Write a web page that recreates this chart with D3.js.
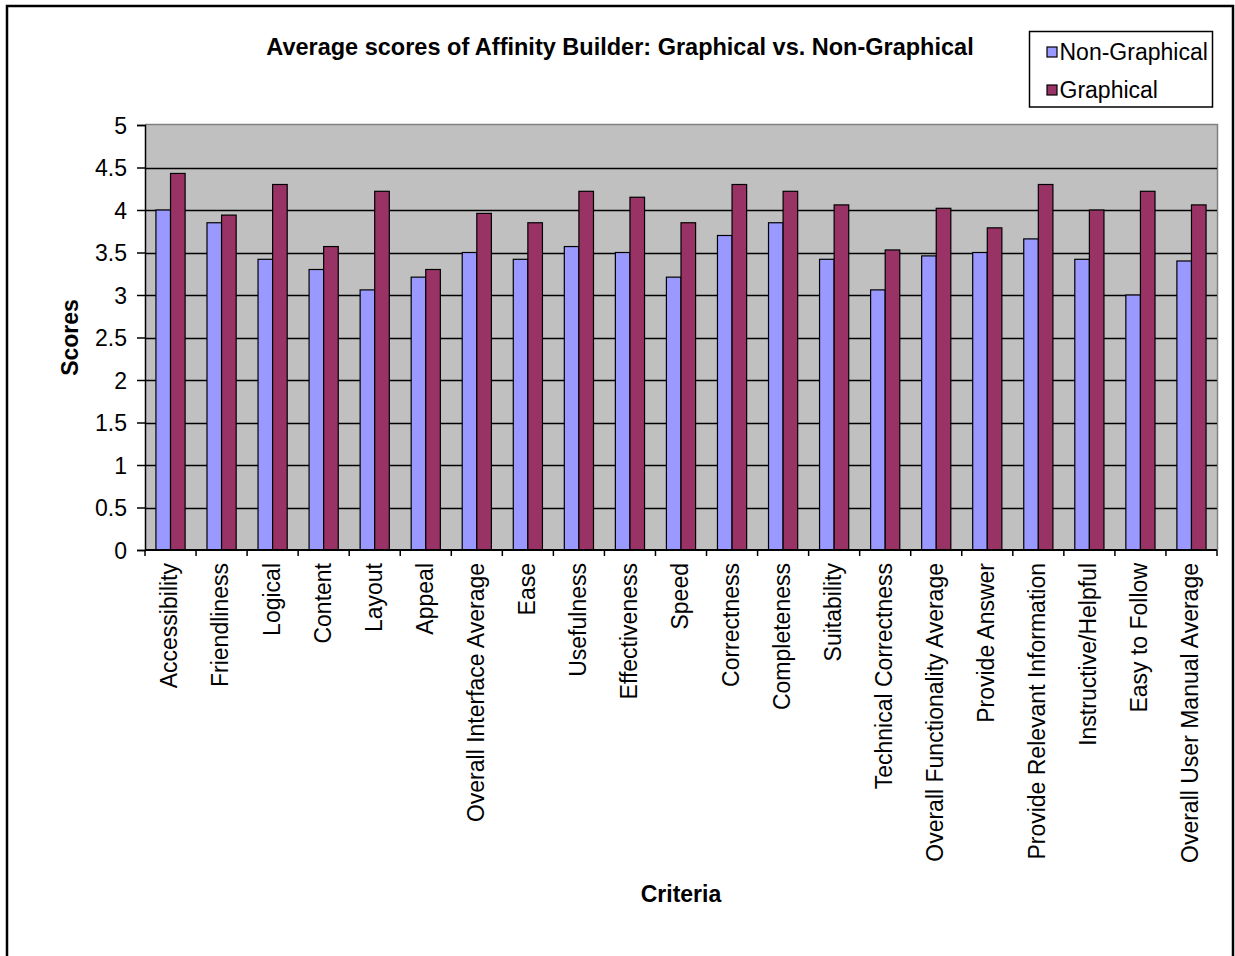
<!DOCTYPE html>
<html lang="en">
<head>
    <meta charset="utf-8">
    <title>Average scores of Affinity Builder</title>
    <script src="https://d3js.org/d3.v7.min.js" charset="utf-8"></script>
    <style>
        body { margin: 0; background: #fff; }
        text { font-family: "Liberation Sans", Arial, sans-serif; fill: #000; }
    </style>
</head>
<body>

    <script>

    var criteria = ["Accessibility", "Friendliness", "Logical", "Content", "Layout", "Appeal",
        "Overall Interface Average", "Ease", "Usefulness", "Effectiveness", "Speed", "Correctness",
        "Completeness", "Suitability", "Technical Correctness", "Overall Functionality Average",
        "Provide Answer", "Provide Relevant Information", "Instructive/Helpful", "Easy to Follow",
        "Overall User Manual Average"]
    var nonGraphical = [4.00, 3.85, 3.42, 3.30, 3.06, 3.21, 3.50, 3.42, 3.57, 3.50, 3.21, 3.70,
        3.85, 3.42, 3.06, 3.46, 3.50, 3.66, 3.42, 3.00, 3.40]
    var graphical = [4.43, 3.94, 4.30, 3.57, 4.22, 3.30, 3.96, 3.85, 4.22, 4.15, 3.85, 4.30,
        4.22, 4.06, 3.53, 4.02, 3.79, 4.30, 4.00, 4.22, 4.06]
    var seriesNames = ["Non-Graphical", "Graphical"]
    var yTicks = [0, 0.5, 1, 1.5, 2, 2.5, 3, 3.5, 4, 4.5, 5]

    var colors = ["#9999ff", "#993366"]
    var w = 1235, h = 956
    var pLeft = 145, pRight = 1217, pTop = 125, pBottom = 550

    var svg = d3.select("body").append("svg").attr("width", w).attr("height", h)

    // outer chart border
    svg.append("rect").attr("x", 7).attr("y", 6).attr("width", 1226).attr("height", 1000)
        .attr("fill", "none").attr("stroke", "#000").attr("stroke-width", 2.5)

    var x = d3.scaleBand().domain(criteria).range([pLeft, pRight])
        .paddingInner(1.5 / 3.5).paddingOuter(0.75 / 3.5)
    var xs = d3.scaleBand().domain(seriesNames).range([0, x.bandwidth()])
    var y = d3.scaleLinear().domain([0, 5]).range([pBottom, pTop])

    // plot area
    svg.append("rect").attr("x", pLeft).attr("y", pTop).attr("width", pRight - pLeft).attr("height", pBottom - pTop)
        .attr("fill", "#c0c0c0")
    svg.append("path").attr("d", "M" + pLeft + "," + (pTop - 0.5) + "H" + (pRight + 0.5) + "V" + pBottom)
        .attr("fill", "none").attr("stroke", "#808080").attr("stroke-width", 1.5)

    // gridlines
    svg.append("g").selectAll("line").data(yTicks.filter(function (d) { return d > 0 && d < 5 })).enter()
        .append("line")
        .attr("x1", pLeft).attr("x2", pRight)
        .attr("y1", function (d) { return Math.round(y(d)) + 0.5 })
        .attr("y2", function (d) { return Math.round(y(d)) + 0.5 })
        .attr("stroke", "#000").attr("stroke-width", 1.3)

    // bars
    var rows = criteria.map(function (c, i) { return { c: c, v: [nonGraphical[i], graphical[i]] } })
    var groups = svg.append("g").selectAll("g").data(rows).enter().append("g")
        .attr("transform", function (d) { return "translate(" + x(d.c) + ",0)" })
    groups.selectAll("rect").data(function (d) { return d.v.map(function (v, k) { return { v: v, k: k } }) })
        .enter().append("rect")
        .attr("x", function (d) { return xs(seriesNames[d.k]) })
        .attr("width", xs.bandwidth())
        .attr("y", function (d) { return y(d.v) })
        .attr("height", function (d) { return y(0) - y(d.v) })
        .attr("fill", function (d) { return colors[d.k] })
        .attr("stroke", "#000").attr("stroke-width", 1.2)

    // y axis
    var yAxis = svg.append("g").attr("transform", "translate(" + pLeft + ",0)")
        .call(d3.axisLeft(y).tickValues(yTicks).tickSize(8).tickPadding(10).tickFormat(function (d) { return String(d) }))
    yAxis.select(".domain").attr("stroke-width", 1.5)
    yAxis.selectAll(".tick line").attr("stroke-width", 1.5)
    yAxis.selectAll("text").attr("font-size", 23).attr("font-family", null).attr("dy", "0.36em")

    // x axis with ticks on category boundaries
    var xAxis = svg.append("g").attr("transform", "translate(0," + pBottom + ")")
    xAxis.append("line").attr("x1", pLeft).attr("x2", pRight).attr("stroke", "#000").attr("stroke-width", 2)
    var bounds = criteria.map(function (c) { return x(c) - x.step() * x.paddingOuter() })
    bounds.push(pRight)
    xAxis.selectAll(".tk").data(bounds).enter().append("line")
        .attr("x1", function (d) { return d }).attr("x2", function (d) { return d })
        .attr("y1", 0).attr("y2", 6).attr("stroke", "#000").attr("stroke-width", 1.5)
    xAxis.selectAll(".lbl").data(criteria).enter().append("text")
        .attr("transform", function (d) { return "translate(" + (x(d) + x.bandwidth() / 2) + ",13) rotate(-90)" })
        .attr("text-anchor", "end")
        .attr("dy", "0.3em")
        .attr("font-size", 23)
        .text(function (d) { return d })

    // titles
    svg.append("text").attr("x", 620).attr("y", 55).attr("text-anchor", "middle")
        .attr("font-size", 23.5).attr("font-weight", "bold")
        .text("Average scores of Affinity Builder: Graphical vs. Non-Graphical")
    svg.append("text").attr("x", (pLeft + pRight) / 2).attr("y", 902).attr("text-anchor", "middle")
        .attr("font-size", 23).attr("font-weight", "bold").text("Criteria")
    svg.append("text").attr("transform", "translate(78," + (pTop + pBottom) / 2 + ") rotate(-90)")
        .attr("text-anchor", "middle").attr("font-size", 23).attr("font-weight", "bold").text("Scores")

    // legend
    var lg = svg.append("g").attr("transform", "translate(1029.5,31.5)")
    lg.append("rect").attr("width", 183).attr("height", 75.5)
        .attr("fill", "#fff").attr("stroke", "#000").attr("stroke-width", 1.5)
    var items = lg.selectAll(".item").data(seriesNames).enter().append("g")
        .attr("transform", function (d, i) { return "translate(0," + (i * 38) + ")" })
    items.append("rect").attr("x", 17.5).attr("y", 15.5).attr("width", 10).attr("height", 10)
        .attr("fill", function (d, i) { return colors[i] }).attr("stroke", "#000").attr("stroke-width", 1.2)
    items.append("text").attr("x", 30).attr("y", 28).attr("font-size", 23).text(function (d) { return d })

    </script>

</body>
</html>
